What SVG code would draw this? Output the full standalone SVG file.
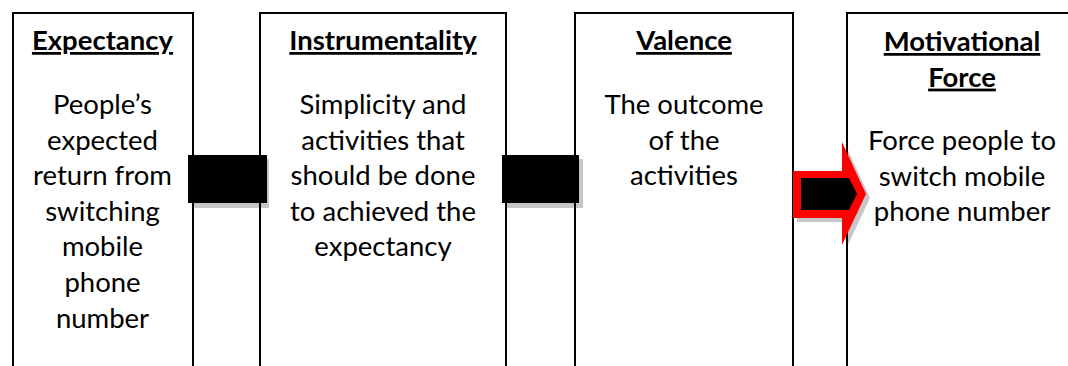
<svg xmlns="http://www.w3.org/2000/svg" width="1068" height="366" viewBox="0 0 1068 366">
<style>
.box{fill:#fff;stroke:#000;stroke-width:2}
text{font-family:Lato,"Liberation Sans",sans-serif;font-size:27.5px;fill:#000;text-anchor:middle}
.h{font-weight:bold;text-decoration:underline}
.sh{fill:#000;fill-opacity:0.22}
.blk{fill:#000}
</style>
<rect width="1068" height="366" fill="#fff"/>
<g id="expectancy">
<rect class="box" x="13" y="13" width="180" height="370"/>
<text class="h" x="102.5" y="50">Expectancy</text>
<text x="102.5" y="114">People’s</text>
<text x="102.5" y="149.6">expected</text>
<text x="102.5" y="185.2">return from</text>
<text x="102.5" y="220.8">switching</text>
<text x="102.5" y="256.4">mobile</text>
<text x="102.5" y="292">phone</text>
<text x="102.5" y="327.6">number</text>
</g>
<g id="instrumentality">
<rect class="box" x="260" y="13" width="246" height="370"/>
<text class="h" x="383" y="50">Instrumentality</text>
<text x="383" y="114">Simplicity and</text>
<text x="383" y="149.6">activities that</text>
<text x="383" y="185.2">should be done</text>
<text x="383" y="220.8">to achieved the</text>
<text x="383" y="256.4">expectancy</text>
</g>
<g id="valence">
<rect class="box" x="575" y="13" width="218" height="370"/>
<text class="h" x="684" y="50">Valence</text>
<text x="684" y="114">The outcome</text>
<text x="684" y="149.6">of the</text>
<text x="684" y="185.2">activities</text>
</g>
<g id="motivational-force">
<rect class="box" x="847" y="13" width="240" height="370"/>
<text class="h" x="962" y="51">Motivational</text>
<text class="h" x="962" y="86.6">Force</text>
<text x="962" y="150">Force people to</text>
<text x="962" y="185.6">switch mobile</text>
<text x="962" y="221.2">phone number</text>
</g>
<g id="connectors">
<rect class="sh" x="192" y="159" width="77" height="49"/>
<rect class="blk" x="188" y="155" width="79" height="48"/>
<rect class="sh" x="506" y="159" width="77" height="49"/>
<rect class="blk" x="502" y="155" width="77" height="48"/>
<polygon class="sh" points="797,175 846,175 846,146 870,198 846,249 846,222 797,222"/>
<polygon fill="#ff0000" points="793,171 842,171 842,142 866,194 842,245 842,218 793,218"/>
<polygon class="blk" points="801,178 849,178 857,194 849,210 801,210"/>
</g>
</svg>
